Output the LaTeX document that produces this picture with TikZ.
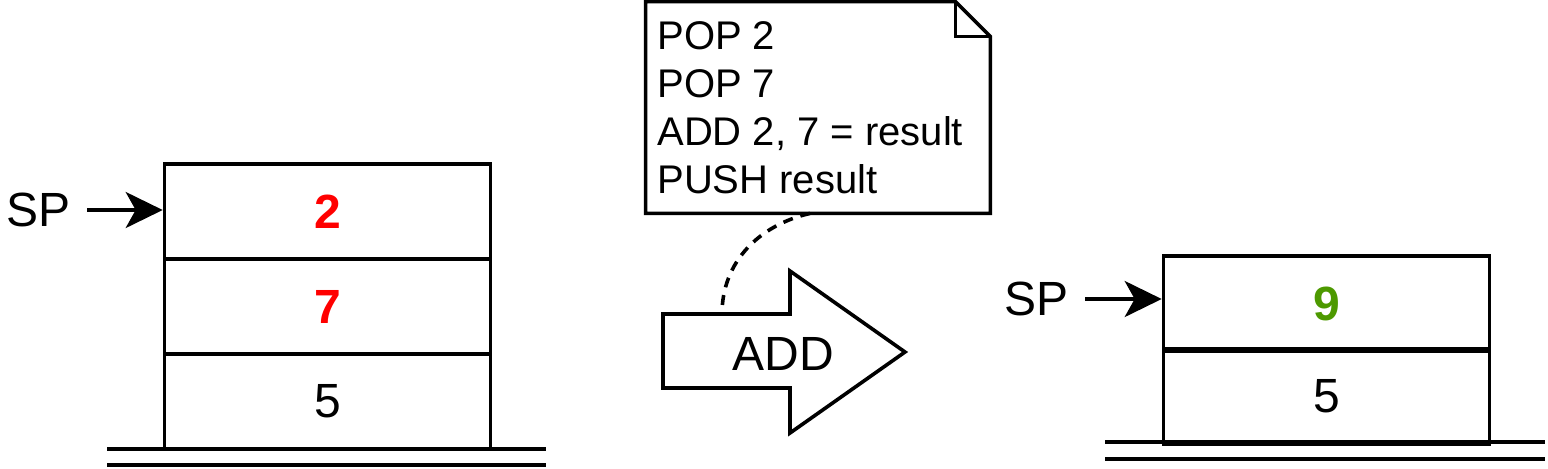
\documentclass[tikz,border=0pt]{standalone}
\usepackage{fontspec}
\setmainfont{Liberation Sans}
\usetikzlibrary{positioning,arrows.meta}
\definecolor{PopRed}{RGB}{255,0,0}
\definecolor{PushGreen}{RGB}{77,153,0}
\tikzset{
	cell/.style={draw, line width=1.8pt, minimum width=163pt, minimum height=47.5pt, inner sep=0pt, font=\fontsize{24}{28}\selectfont},
	popped/.style={text=PopRed, font=\fontsize{24}{28}\selectfont\bfseries},
	pushed/.style={text=PushGreen, font=\fontsize{24}{28}\selectfont\bfseries},
	sptext/.style={inner sep=8pt, font=\fontsize{24}{28}\selectfont},
	sparrow/.style={-{Stealth[length=18.5pt,width=18pt,inset=5pt]}, line width=1.8pt},
	ground/.style={line width=1.8pt},
	notetext/.style={inner sep=0pt, align=left, font=\fontsize{20}{24}\selectfont},
	notelink/.style={line width=1.8pt, dash pattern=on 5pt off 4pt},
}

\begin{document}
\begin{tikzpicture}[x=0.5pt, y=-0.5pt]
	\useasboundingbox (0,0) rectangle (1548,468);
	% stack before
	\node[cell, popped] (a2) at (327.5,211.5) {2};
	\node[cell, popped] (a7) at (327.5,306.5) {7};
	\node[cell] (a5) at (327.5,401.5) {5};
	\draw[ground] (107,449) -- (546,449);
	\draw[ground] (107,465) -- (546,465);
	\node[sptext, anchor=east] (spa) at (87,210) {SP};
	\draw[sparrow] (spa.east) -- (spa.east -| a2.west);
	% note
	\node[minimum width=172pt, minimum height=105.5pt, inner sep=0pt] (note) at (818,107.5) {};
	\draw[line width=1.8pt, line join=miter] (note.north west) -- ([xshift=-17.5pt]note.north east)
		-- ([yshift=-17.5pt]note.north east) -- (note.south east) -- (note.south west) -- cycle;
	\draw[line width=1.8pt] ([xshift=-17.5pt]note.north east) |- ([yshift=-17.5pt]note.north east);
	\node[notetext, anchor=north west] (ops) at (657,21.5) {POP 2\\POP 7\\ADD 2, 7 = result\\PUSH result};
	% operation
	\draw[line width=1.8pt, line join=miter] (663,314) -- (790,314) -- (790,271) -- (905,352)
		-- (790,433) -- (790,388) -- (663,388) -- cycle;
	\node[inner sep=0pt, font=\fontsize{24}{28}\selectfont] (addop) at (783,354) {ADD};
	\coordinate (addtop) at (722,314);
	\draw[notelink] ([xshift=-4pt]note.south) to[out=193, in=90] (addtop);
	% stack after
	\node[cell, pushed] (b9) at (1326.5,303.5) {9};
	\node[cell] (b5) at (1326.5,396.5) {5};
	\draw[ground] (1105,442) -- (1545,442);
	\draw[ground] (1105,459) -- (1545,459);
	\node[sptext, anchor=east] (spb) at (1085,299) {SP};
	\draw[sparrow] (spb.east) -- (spb.east -| b9.west);
\end{tikzpicture}
\end{document}
